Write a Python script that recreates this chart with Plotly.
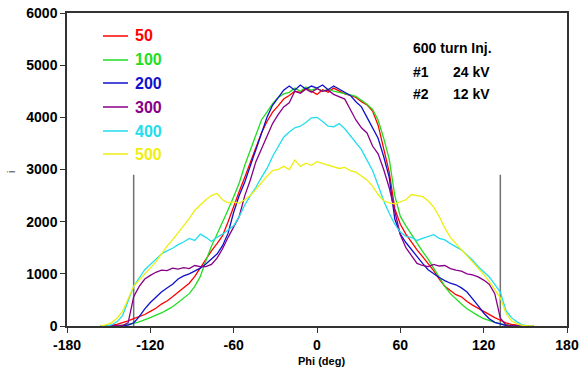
import plotly.graph_objects as go

PHI = list(range(-156, 157, 4))

I_50 = [0, 0, 10, 30, 60, 100, 140, 180, 220, 280, 340, 420, 480, 560, 650, 730, 820, 950, 1120, 1280,
        1440, 1580, 1730, 2000, 2300, 2580, 2850, 3130, 3420, 3700, 3920, 4100, 4220, 4350, 4420, 4500, 4480, 4560, 4500, 4440,
        4530, 4480, 4560, 4500, 4450, 4420, 4380, 4300, 4240, 4120, 3850, 3400, 2950, 2250, 1950, 1760, 1600, 1460, 1330, 1200,
        1060, 900, 760, 680, 600, 560, 470, 400, 340, 280, 210, 160, 110, 60, 30, 10, 0, 0, 0]

I_100 = [0, 0, 0, 5, 15, 30, 50, 80, 115, 160, 210, 250, 310, 370, 450, 530, 620, 760, 950, 1250,
         1530, 1760, 1980, 2230, 2480, 2740, 3080, 3380, 3640, 3950, 4100, 4260, 4380, 4450, 4480, 4560, 4500, 4580, 4520, 4560,
         4500, 4540, 4500, 4480, 4450, 4430, 4400, 4330, 4250, 4150, 3950, 3600, 3200, 2500, 2100, 1920, 1750, 1600, 1430, 1280,
         1100, 920, 760, 620, 510, 420, 330, 260, 200, 140, 100, 70, 40, 20, 5, 0, 0, 0, 0]

I_200 = [0, 0, 0, 0, 5, 15, 60, 180, 330, 450, 560, 650, 730, 800, 900, 960, 1000, 1060, 1110, 1190,
         1280, 1380, 1540, 1780, 2180, 2500, 2760, 3080, 3370, 3720, 4000, 4230, 4380, 4520, 4600, 4520, 4620, 4540, 4600, 4560,
         4620, 4530, 4600, 4540, 4480, 4420, 4300, 4200, 4000, 3800, 3600, 3250, 2850, 2050, 1760, 1600, 1460, 1320, 1200, 1080,
         1000, 930, 870, 820, 790, 730, 650, 530, 390, 250, 140, 70, 35, 10, 0, 0, 0, 0, 0]

I_300 = [0, 0, 0, 0, 10, 60, 560, 760, 900, 970, 1030, 1070, 1060, 1110, 1090, 1120, 1100, 1160, 1140, 1140,
         1180, 1300, 1480, 1700, 1900, 2100, 2500, 2800, 3150, 3400, 3650, 3880, 4050, 4200, 4280, 4500, 4460, 4540, 4480, 4550,
         4500, 4520, 4440, 4400, 4350, 4150, 3950, 3800, 3700, 3450, 3300, 3000, 2650, 2200, 1750, 1500, 1350, 1200, 1160, 1140,
         1180, 1150, 1160, 1100, 1070, 1050, 1000, 980, 940, 880, 800, 620, 150, 20, 0, 0, 0, 0, 0]

I_400 = [0, 0, 20, 80, 200, 500, 760, 920, 1080, 1180, 1280, 1380, 1440, 1490, 1560, 1610, 1680, 1640, 1760, 1700,
         1620, 1700, 1760, 1840, 1920, 2100, 2320, 2500, 2660, 2850, 3020, 3250, 3430, 3620, 3720, 3800, 3830, 3900, 3990, 4000,
         3920, 3830, 3820, 3880, 3780, 3650, 3530, 3380, 3180, 2980, 2700, 2400, 2160, 1950, 1800, 1720, 1700, 1640, 1680, 1720,
         1750, 1680, 1650, 1580, 1520, 1460, 1360, 1260, 1140, 1040, 940, 800, 650, 300, 160, 80, 20, 0, 0]

I_500 = [0, 20, 60, 150, 280, 520, 760, 880, 1000, 1100, 1230, 1380, 1530, 1650, 1780, 1920, 2060, 2220, 2330, 2420,
         2500, 2540, 2420, 2360, 2380, 2350, 2420, 2500, 2620, 2750, 2870, 2980, 3000, 3060, 3000, 3180, 3060, 3120, 3080, 3150,
         3120, 3080, 3060, 3020, 3040, 2980, 2950, 2880, 2800, 2680, 2520, 2400, 2360, 2340, 2380, 2420, 2520, 2500, 2480, 2400,
         2280, 2100, 1880, 1700, 1580, 1460, 1360, 1240, 1110, 990, 850, 700, 540, 250, 100, 40, 10, 0, 0]

SERIES = ["50", "100", "200", "300", "400", "500"]
VALUES = [I_50, I_100, I_200, I_300, I_400, I_500]
COLORS = ["#ff0000", "#22dd22", "#1010cc", "#880088", "#22dded", "#eeee11"]

VLINE_X = [-132, 132]
VLINE_TOP = 2900

X_TICKS = [-180, -120, -60, 0, 60, 120, 180]
Y_TICKS = [0, 1000, 2000, 3000, 4000, 5000, 6000]

NOTE = ["600 turn Inj.", "#1", "#2"]
NOTE_KV = ["24 kV", "12 kV"]

fig = go.Figure()

vx, vy = [], []
for x in VLINE_X:
    vx += [x, x, None]
    vy += [0, VLINE_TOP, None]
fig.add_trace(go.Scatter(x=vx, y=vy, mode="lines", line=dict(color="#707070", width=1.5),
                         showlegend=False, hoverinfo="skip"))

for name, vals, col in zip(SERIES, VALUES, COLORS):
    fig.add_trace(go.Scatter(x=PHI, y=vals, mode="lines", name=name,
                             line=dict(color=col, width=1.3), showlegend=False))

FONT = "Liberation Sans, Arial, sans-serif"

# legend drawn manually
x0, y0 = 67, 326
W, H = 500, 313
row_y = [36, 60, 83, 107, 131, 154]
for name, col, py in zip(SERIES, COLORS, row_y):
    yy = (y0 - py) / H
    fig.add_shape(type="line", xref="paper", yref="paper",
                  x0=(103 - x0) / W, x1=(128 - x0) / W, y0=yy, y1=yy,
                  line=dict(color=col, width=1.5))
    fig.add_annotation(xref="paper", yref="paper", x=(133 - x0) / W, y=yy,
                       text="<b>%s</b>" % name, showarrow=False, xanchor="left", yanchor="middle",
                       font=dict(family=FONT, size=16, color=col))

note_y = [48, 72, 94]
for t, py in zip(NOTE, note_y):
    fig.add_annotation(xref="paper", yref="paper", x=(411 - x0) / W, y=(y0 - py) / H,
                       text="<b>%s</b>" % t, showarrow=False, xanchor="left", yanchor="middle",
                       font=dict(family=FONT, size=14, color="black"))
for t, py in zip(NOTE_KV, note_y[1:]):
    fig.add_annotation(xref="paper", yref="paper", x=(451 - x0) / W, y=(y0 - py) / H,
                       text="<b>%s</b>" % t, showarrow=False, xanchor="left", yanchor="middle",
                       font=dict(family=FONT, size=14, color="black"))

fig.add_annotation(xref="paper", yref="paper", x=(11 - x0) / W, y=(y0 - 172) / H,
                   text="i", textangle=-90, showarrow=False, xanchor="center", yanchor="middle",
                   font=dict(family=FONT, size=10, color="black"))

fig.add_annotation(xref="paper", yref="paper", x=(321 - x0) / W, y=(y0 - 361) / H,
                   text="<b>Phi (deg)</b>", showarrow=False, xanchor="center", yanchor="middle",
                   font=dict(family=FONT, size=11, color="black"))

axis_common = dict(showgrid=False, zeroline=False, showline=True, linecolor="#333333", linewidth=1.5,
                   mirror=True, ticks="outside", ticklen=5, tickcolor="#333333", tickwidth=1,
                   automargin=False,
                   tickfont=dict(family=FONT, size=14, color="black"))

fig.update_layout(
    width=581, height=370,
    margin=dict(l=67, r=14, t=13, b=44),
    paper_bgcolor="white", plot_bgcolor="white",
    xaxis=dict(range=[-180, 180], tickvals=X_TICKS, ticktext=["<b>%d</b>" % v for v in X_TICKS], **axis_common),
    yaxis=dict(range=[0, 6000], tickvals=Y_TICKS, ticktext=["<b>%d</b>" % v for v in Y_TICKS], **axis_common),
)

fig.write_html("out.html")
